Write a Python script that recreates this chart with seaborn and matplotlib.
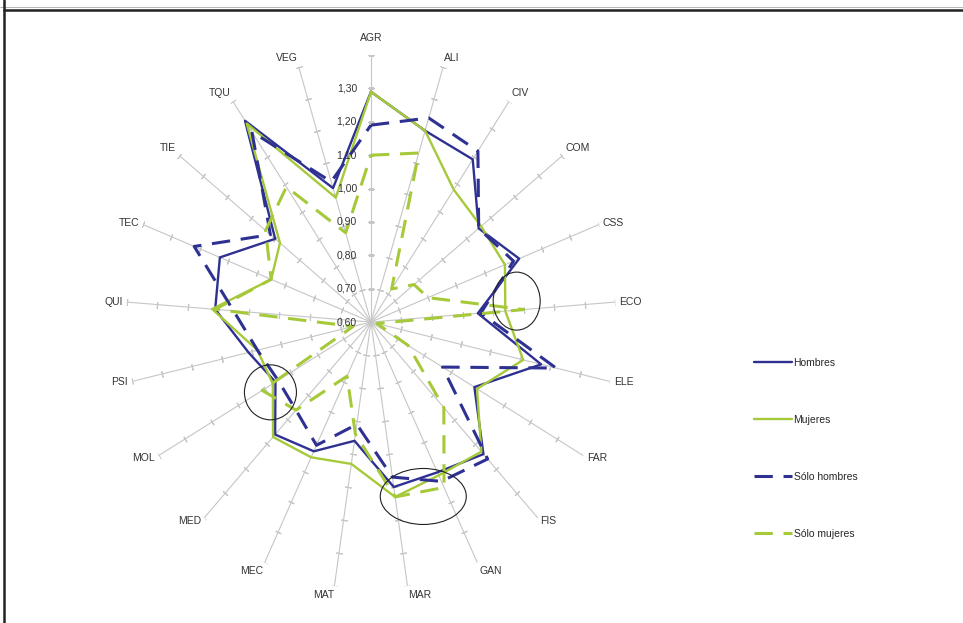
import numpy as np
import matplotlib.pyplot as plt
import seaborn as sns
from matplotlib.lines import Line2D
from matplotlib.patches import Ellipse

# Radar data (ratio per branch)
categorias = ['AGR', 'ALI', 'CIV', 'COM', 'CSS', 'ECO', 'ELE', 'FAR', 'FIS', 'GAN', 'MAR',
              'MAT', 'MEC', 'MED', 'MOL', 'PSI', 'QUI', 'TEC', 'TIE', 'TQU', 'VEG']
hombres = [1.29, 1.20, 1.19, 1.05, 1.12, 0.95, 1.17, 0.99, 1.14, 1.10, 1.10,
           0.96, 1.03, 1.06, 0.96, 1.01, 1.11, 1.13, 1.00, 1.33, 1.02]
mujeres = [1.29, 1.20, 1.08, 1.06, 1.07, 1.04, 1.11, 1.00, 1.13, 1.11, 1.13,
           1.03, 1.05, 1.07, 0.97, 0.98, 1.12, 0.95, 0.98, 1.32, 0.99]
solo_hombres = [1.19, 1.24, 1.22, 1.05, 1.10, 0.96, 1.22, 0.87, 1.16, 1.13, 1.07,
                0.91, 1.01, 0.96, 0.95, 0.98, 1.05, 1.22, 1.02, 1.29, 1.04]
solo_mujeres = [1.10, 1.13, 0.72, 0.78, 0.80, 1.10, 0.62, 0.74, 0.95, 1.15, 1.13,
                0.94, 0.78, 0.96, 1.01, 0.66, 1.11, 0.95, 1.04, 1.09, 0.88]
escala = [0.60, 0.70, 0.80, 0.90, 1.00, 1.10, 1.20, 1.30]
r_min, r_max = 0.60, 1.40

# hand drawn circles on the original (category angle in degrees, value, size in px)
resaltes = [(82.5, 1.08, 47, 58), (237.3, 0.99, 52, 55), (161.9, 1.15, 86, 56)]

azul = '#2E3192'
verde = '#A6C93A'
gris = '#c6c6c6'

sns.set_style('white')
plt.rcParams['font.family'] = ['Liberation Sans', 'DejaVu Sans']
plt.rcParams['font.size'] = 7.5

fig = plt.figure(figsize=(9.63, 6.23), dpi=100)
ax = fig.add_axes([0.1308, 0.0546, 0.5088, 0.857], projection='polar')
ax.set_aspect('auto')
ax.set_theta_zero_location('N')
ax.set_theta_direction(-1)
ax.set_ylim(r_min, r_max)
ax.grid(False)
ax.spines['polar'].set_visible(False)
ax.set_xticks([])
ax.set_yticks([])

n = len(categorias)
ang = np.arange(n) * 2 * np.pi / n
marcas = np.arange(0.7, r_max + 0.001, 0.1)

# spokes with small tick marks
for a in ang:
    ax.plot([a, a], [r_min, r_max], color=gris, lw=0.8, zorder=1)
    ax.plot([a] * len(marcas), marcas, ls='none', marker=(2, 2, 90 - np.degrees(a)),
            ms=4.5, mec=gris, mew=0.8, zorder=1)

th = np.append(ang, 2 * np.pi)
series = [('Hombres', hombres, azul, '-'),
          ('Mujeres', mujeres, verde, '-'),
          ('Sólo hombres', solo_hombres, azul, '--'),
          ('Sólo mujeres', solo_mujeres, verde, '--')]

handles = []
for nombre, vals, col, ls in series:
    r = np.append(vals, vals[0])
    if ls == '-':
        sns.lineplot(x=th, y=r, ax=ax, sort=False, estimator=None, color=col, lw=1.7, zorder=3)
    else:
        sns.lineplot(x=th, y=r, ax=ax, sort=False, estimator=None, color=col, lw=2.2,
                     dashes=(6, 3.5), zorder=3)
    handles.append(ax.lines[-1])
ax.set_xlabel('')
ax.set_ylabel('')

# radial scale labels on the AGR spoke
for v in escala:
    ax.annotate(f'{v:.2f}'.replace('.', ','), xy=(0, v), xytext=(-10, 0),
                textcoords='offset points', ha='right', va='center', color='#333333')

# category labels
for a, c in zip(ang, categorias):
    s, co = np.sin(a), np.cos(a)
    ha = 'left' if s > 0.05 else ('right' if s < -0.05 else 'center')
    va = 'bottom' if co > 0.5 else ('top' if co < -0.85 else 'center')
    d = 9 if ha == 'center' else 3
    ax.annotate(c, xy=(a, r_max), xytext=(d * s, d * co), textcoords='offset points',
                ha=ha, va=va, color='#333333', annotation_clip=False)

fig.legend(handles, [s[0] for s in series], loc='upper left',
           bbox_to_anchor=(754 / 963, 1 - 358 / 623), frameon=False,
           handlelength=3.6, handletextpad=0.2, labelspacing=4.5,
           borderpad=0, borderaxespad=0, fontsize=7.5)

# circles drawn on top of the chart
W, H = fig.bbox.width, fig.bbox.height
for deg, val, w, h in resaltes:
    cx, cy = ax.transData.transform((np.radians(deg), val))
    fx, fy = fig.transFigure.inverted().transform((cx, cy))
    fig.add_artist(Ellipse((fx, fy), w / W, h / H, transform=fig.transFigure,
                           fill=False, ec='#222222', lw=0.8))

# page border of the original document
fig.add_artist(Line2D([4 / W, 1], [1 - 9.5 / H, 1 - 9.5 / H], transform=fig.transFigure,
                      color='#222222', lw=1.8))
fig.add_artist(Line2D([0, 1], [1 - 6.5 / H, 1 - 6.5 / H], transform=fig.transFigure,
                      color='#aaaaaa', lw=0.6))
fig.add_artist(Line2D([4 / W, 4 / W], [0, 1], transform=fig.transFigure,
                      color='#222222', lw=1.8))

fig.savefig('out.png', dpi=100)
